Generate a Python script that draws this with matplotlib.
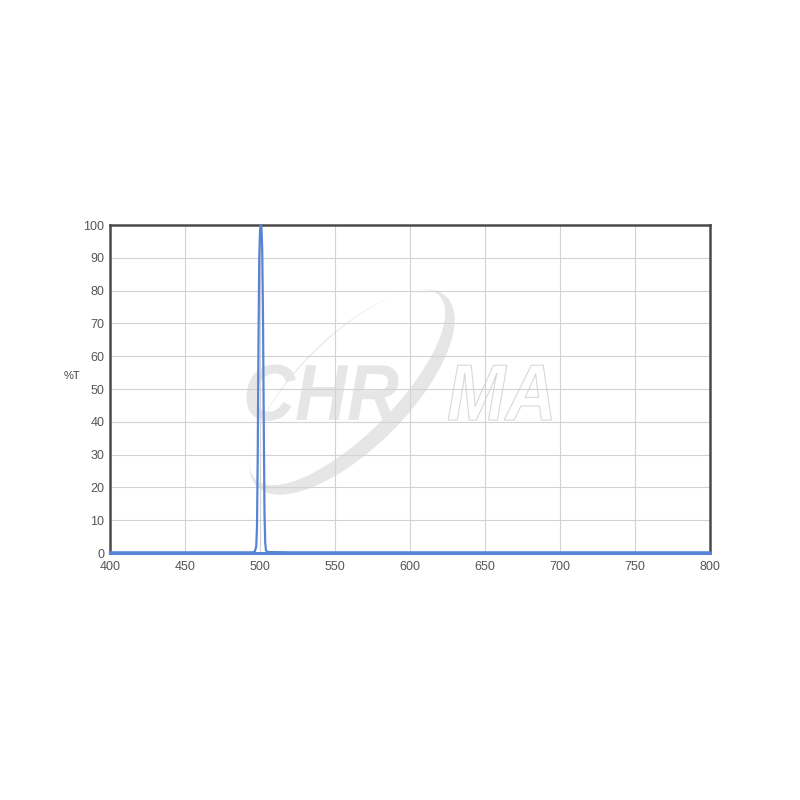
import matplotlib
matplotlib.use("Agg")
import matplotlib.pyplot as plt
from matplotlib.patches import Ellipse, PathPatch
from matplotlib.textpath import TextPath
from matplotlib.font_manager import FontProperties
from matplotlib.transforms import Affine2D

# transmission curve
wavelength = [400, 480, 495, 496.5, 497.5, 498, 498.5, 499, 499.5, 500, 500.5, 501,
              501.5, 502, 502.5, 503, 503.5, 504, 505, 520, 800]
transmission = [0.2, 0.2, 0.2, 0.4, 2, 8, 30, 65, 90, 98, 100, 99,
                92, 72, 40, 12, 3, 0.8, 0.3, 0.2, 0.2]

x_ticks = [400, 450, 500, 550, 600, 650, 700, 750, 800]
y_ticks = [0, 10, 20, 30, 40, 50, 60, 70, 80, 90, 100]

plt.rcParams['font.family'] = ['Liberation Sans', 'DejaVu Sans']

fig = plt.figure(figsize=(8, 8), dpi=100)
ax = fig.add_axes([0.1375, 0.30875, 0.75, 0.41])

# watermark logo (behind the grid)
ring = Ellipse((0.44, 0.51), 0.335, 0.14, angle=45, transform=fig.transFigure,
               facecolor="#e6e6e6", edgecolor="none", zorder=0.5)
hole = Ellipse((0.434, 0.516), 0.325, 0.12, angle=45, transform=fig.transFigure,
               facecolor="white", edgecolor="none", zorder=0.6)
ax.add_patch(ring)
ax.add_patch(hole)

fp = FontProperties(family="Liberation Sans", weight="bold", style="italic")
chr_path = TextPath((0, 0), "CHR", size=1, prop=fp)
ma_path = TextPath((0, 0), "MA", size=1, prop=fp)
t1 = Affine2D().scale(0.09, 0.0995).translate(243 / 800, 1 - 420 / 800) + fig.transFigure
t2 = Affine2D().scale(0.088, 0.0995).translate(447 / 800, 1 - 420 / 800) + fig.transFigure
ax.add_patch(PathPatch(chr_path, transform=t1, facecolor="#e6e6e6",
                       edgecolor="none", zorder=0.7))
ax.add_patch(PathPatch(ma_path, transform=t2, facecolor="white",
                       edgecolor="#d8d8d8", linewidth=0.8, zorder=0.7))

ax.plot(wavelength, transmission, color="#5883d6", linewidth=1.6, zorder=3, clip_on=False)

ax.set_xlim(400, 800)
ax.set_ylim(0, 100)
ax.set_xticks(x_ticks)
ax.set_yticks(y_ticks)
ax.grid(True, color="#d2d2d2", linewidth=0.8)
ax.tick_params(length=0, labelsize=9, labelcolor="#555555")
ax.tick_params(axis="x", pad=6)
ax.tick_params(axis="y", pad=4)

for side in ["left", "top", "right"]:
    ax.spines[side].set_color("#4a4a4a")
    ax.spines[side].set_linewidth(1.8)
ax.spines["bottom"].set_color("#5883d6")
ax.spines["bottom"].set_linewidth(2.2)

fig.text(72 / 800, 1 - 376 / 800, "%T", fontsize=8, color="#444444",
         ha="center", va="center")

fig.savefig("out.png", dpi=100, facecolor="white")
